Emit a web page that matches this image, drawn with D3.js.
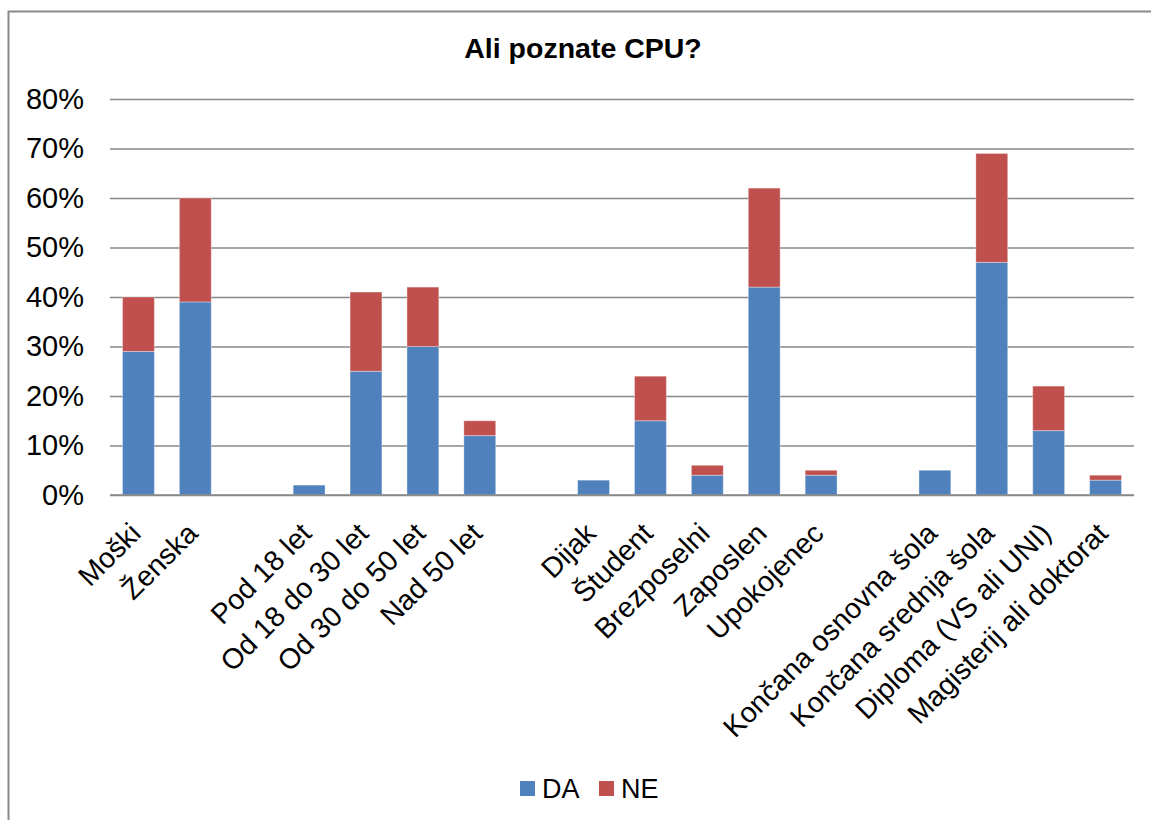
<!DOCTYPE html>
<html>
<head>
<meta charset="utf-8">
<script src="https://cdn.jsdelivr.net/npm/d3@7"></script>
<style>
  body { margin: 0; background: #fff; }
  svg { display: block; font-family: "Liberation Sans", Arial, sans-serif; }
</style>
</head>
<body>
<div id="chart"></div>
<script>
const categories = [
  "Moški", "Ženska", "",
  "Pod 18 let", "Od 18 do 30 let", "Od 30 do 50 let", "Nad 50 let", "",
  "Dijak", "Študent", "Brezposelni", "Zaposlen", "Upokojenec", "",
  "Končana osnovna šola", "Končana srednja šola", "Diploma (VS ali UNI)", "Magisterij ali doktorat"
];
const da = [29, 39, null, 2, 25, 30, 12, null, 3, 15, 4, 42, 4, null, 5, 47, 13, 3];
const ne = [11, 21, null, 0, 16, 12, 3, null, 0, 9, 2, 20, 1, null, 0, 22, 9, 1];
const yTicks = [0, 10, 20, 30, 40, 50, 60, 70, 80];
const seriesNames = ["DA", "NE"];
const colors = ["#4F81BD", "#C0504D"];

const W = 1151, H = 820;
const margin = { top: 99, left: 110, right: 17, bottom: 325 };
const innerW = W - margin.left - margin.right;
const innerH = H - margin.top - margin.bottom;

const svg = d3.select("#chart").append("svg")
  .attr("width", W).attr("height", H);

// outer frame (cut off at right and bottom)
svg.append("rect")
  .attr("x", 8.5).attr("y", 11.5)
  .attr("width", 1200).attr("height", 900)
  .attr("fill", "none")
  .attr("stroke", "#8a8a8a")
  .attr("stroke-width", 2);

svg.append("text")
  .attr("x", 583).attr("y", 58)
  .attr("text-anchor", "middle")
  .style("font-size", "28.5px")
  .style("font-weight", "bold")
  .text("Ali poznate CPU?");

const g = svg.append("g").attr("transform", `translate(${margin.left},${margin.top})`);

const x = d3.scaleBand()
  .domain(categories.map((c, i) => i))
  .range([0, innerW])
  .paddingInner(0.44)
  .paddingOuter(0.22);

const y = d3.scaleLinear().domain([0, 80]).range([innerH, 0]);

// gridlines
g.append("g")
  .call(d3.axisLeft(y).tickValues(yTicks).tickSize(-innerW).tickFormat(""))
  .call(s => s.select(".domain").remove())
  .selectAll("line")
  .attr("stroke", "#888")
  .attr("stroke-width", 1.5);

// y labels
g.append("g")
  .call(d3.axisLeft(y).tickValues(yTicks).tickSize(0).tickPadding(26).tickFormat(d => d + "%"))
  .call(s => s.select(".domain").remove())
  .selectAll("text")
  .attr("fill", "#000")
  .style("font-size", "29px")
  .style("font-family", "Liberation Sans, Arial, sans-serif");

const rows = categories.map((c, i) => ({ i, DA: da[i] || 0, NE: ne[i] || 0 }));
const stacked = d3.stack().keys(seriesNames)(rows);

stacked.forEach((layer, k) => {
  g.append("g")
    .selectAll("rect")
    .data(layer.filter(d => d[1] > d[0]))
    .join("rect")
    .attr("x", d => x(d.data.i))
    .attr("width", x.bandwidth())
    .attr("y", d => y(d[1]))
    .attr("height", d => y(d[0]) - y(d[1]))
    .attr("fill", colors[k])
    .attr("stroke", "rgba(255,255,255,0.35)")
    .attr("stroke-width", 1);
});

// baseline
g.append("line")
  .attr("x1", 0).attr("x2", innerW)
  .attr("y1", innerH).attr("y2", innerH)
  .attr("stroke", "#888").attr("stroke-width", 1.5);

// category labels
g.append("g")
  .attr("transform", `translate(0,${innerH})`)
  .call(d3.axisBottom(x).tickSize(0).tickFormat(i => categories[i]))
  .call(s => s.select(".domain").remove())
  .selectAll("text")
  .attr("text-anchor", "end")
  .attr("dy", 0)
  .attr("transform", "translate(2,38) rotate(-45)")
  .attr("fill", "#000")
  .style("font-size", "28.5px")
  .style("font-family", "Liberation Sans, Arial, sans-serif");

// legend
const legend = svg.append("g").attr("transform", "translate(520,781)");
seriesNames.forEach((n, k) => {
  const item = legend.append("g").attr("transform", `translate(${k * 79},0)`);
  item.append("rect").attr("width", 15).attr("height", 15).attr("fill", colors[k]);
  item.append("text")
    .attr("x", 22).attr("y", 17)
    .style("font-size", "27px")
    .text(n);
});
</script>
</body>
</html>
